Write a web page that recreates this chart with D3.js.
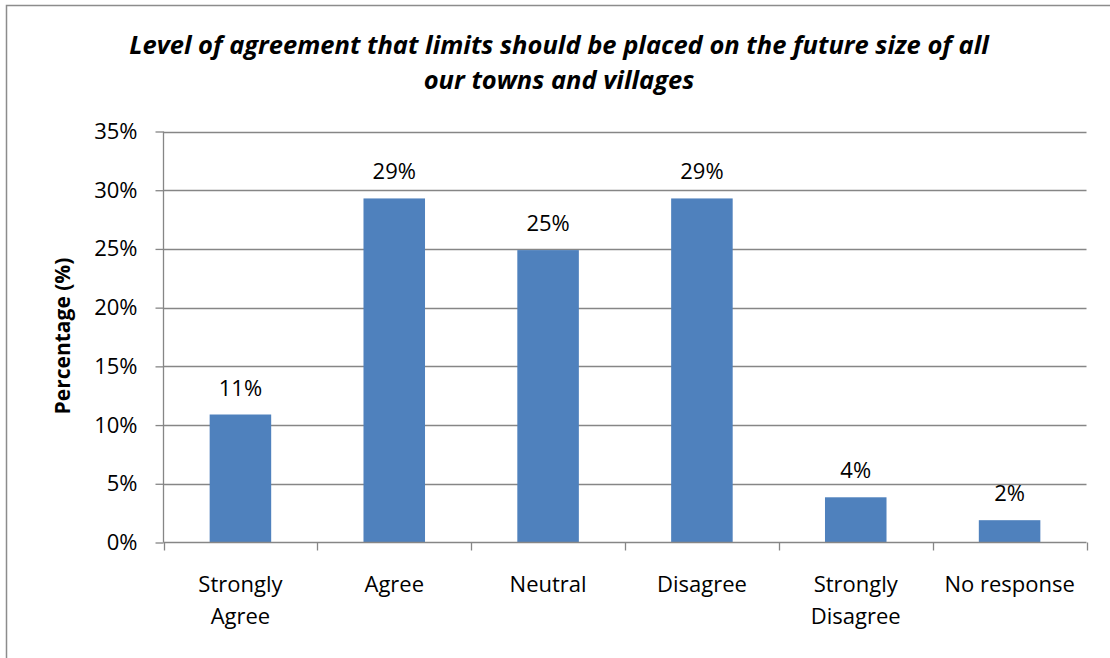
<!DOCTYPE html>
<html>
<head>
<meta charset="utf-8">
<script src="https://cdn.jsdelivr.net/npm/d3@7"></script>
<style>
  html, body { margin: 0; padding: 0; background: #fff; }
  svg { display: block; }
  text { font-family: "Open Sans", sans-serif; fill: #000; }
</style>
</head>
<body>
<svg id="chart" width="1110" height="658"></svg>
<script>
// Survey responses (percent of respondents)
const categories = [["Strongly", "Agree"], ["Agree"], ["Neutral"], ["Disagree"], ["Strongly", "Disagree"], ["No response"]];
const values = [10.9, 29.3, 24.9, 29.3, 3.85, 1.9];
const yTicks = [0, 5, 10, 15, 20, 25, 30, 35];
const titleLines = ["Level of agreement that limits should be placed on the future size of all", "our towns and villages"];
const yTitle = "Percentage (%)";

const svg = d3.select("#chart");
const margin = { left: 163.5, right: 1086.5, top: 131.5, bottom: 542.5 };
const gridColor = "#868686";
const fontFamily = "'Open Sans', sans-serif";
const labelSize = 22;

// outer chart frame
svg.append("rect")
  .attr("x", 6.5).attr("y", 5.5)
  .attr("width", 1120).attr("height", 700)
  .attr("fill", "none").attr("stroke", "#8c8c8c").attr("stroke-width", 1.5);

const keys = categories.map(c => c.join(" "));
const x = d3.scaleBand().domain(keys).range([margin.left, margin.right]).paddingInner(0.6).paddingOuter(0.3);
const y = d3.scaleLinear().domain([0, 35]).range([margin.bottom, margin.top]);

// horizontal gridlines
svg.append("g").selectAll("line").data(yTicks.filter(t => t > 0)).join("line")
  .attr("x1", margin.left).attr("x2", margin.right)
  .attr("y1", d => Math.round(y(d)) + 0.5).attr("y2", d => Math.round(y(d)) + 0.5)
  .attr("stroke", gridColor).attr("stroke-width", 1.3);

// y axis
const yAxis = svg.append("g").attr("transform", `translate(${margin.left},0)`)
  .call(d3.axisLeft(y).tickValues(yTicks).tickFormat(d => d + "%").tickSize(8).tickPadding(18));
yAxis.select(".domain").attr("stroke", gridColor).attr("stroke-width", 1.3).attr("d", `M0,${margin.top}V${margin.bottom}`);
yAxis.selectAll(".tick line").attr("stroke", gridColor).attr("stroke-width", 1.3);
yAxis.selectAll(".tick text").attr("font-size", labelSize).attr("font-family", fontFamily).attr("fill", "#000");

// bars
svg.append("g").selectAll("rect").data(values).join("rect")
  .attr("x", (d, i) => x(keys[i]))
  .attr("y", d => y(d))
  .attr("width", x.bandwidth())
  .attr("height", d => y(0) - y(d))
  .attr("fill", "#4F81BD");

// x axis baseline and category separators
const bounds = d3.range(keys.length + 1).map(i => margin.left + (margin.right - margin.left) * i / keys.length);
svg.append("line").attr("x1", margin.left).attr("x2", margin.right)
  .attr("y1", margin.bottom).attr("y2", margin.bottom)
  .attr("stroke", gridColor).attr("stroke-width", 1.3);
svg.append("g").selectAll("line").data(bounds).join("line")
  .attr("x1", d => Math.round(d) + 0.5).attr("x2", d => Math.round(d) + 0.5)
  .attr("y1", margin.bottom).attr("y2", margin.bottom + 8)
  .attr("stroke", gridColor).attr("stroke-width", 1.3);

// category labels
const catG = svg.append("g").selectAll("text").data(categories).join("text")
  .attr("text-anchor", "middle").attr("font-size", labelSize)
  .attr("x", (d, i) => x(keys[i]) + x.bandwidth() / 2)
  .attr("y", 592);
catG.selectAll("tspan").data(d => d).join("tspan")
  .attr("x", function () { return this.parentNode.getAttribute("x"); })
  .attr("dy", (d, i) => i === 0 ? 0 : 32)
  .text(d => d);

// value labels
const fmt = d3.format(".0f");
svg.append("g").selectAll("text").data(values).join("text")
  .attr("text-anchor", "middle").attr("font-size", labelSize)
  .attr("x", (d, i) => x(keys[i]) + x.bandwidth() / 2)
  .attr("y", d => y(d) - 19)
  .text(d => fmt(d) + "%");

// y axis title
svg.append("text")
  .attr("transform", "translate(70,336) rotate(-90)")
  .attr("text-anchor", "middle").attr("font-size", 21).attr("font-weight", "bold")
  .text(yTitle);

// chart title
svg.append("g").selectAll("text").data(titleLines).join("text")
  .attr("x", 559).attr("y", (d, i) => 54 + i * 35)
  .attr("text-anchor", "middle").attr("font-size", 25.5)
  .attr("font-weight", "bold").attr("font-style", "italic")
  .text(d => d);
</script>
</body>
</html>
